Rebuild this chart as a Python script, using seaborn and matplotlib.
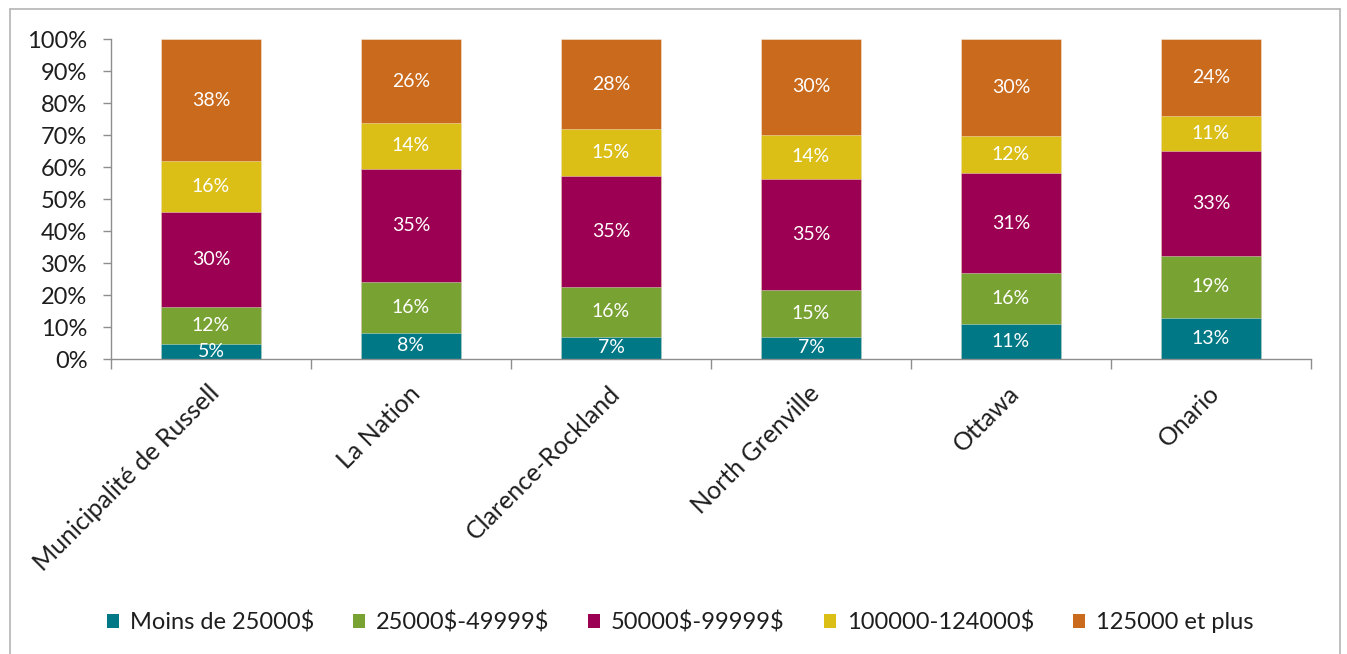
import numpy as np
import pandas as pd
import matplotlib
matplotlib.use("Agg")
import matplotlib.pyplot as plt
import matplotlib.transforms as mtransforms
from matplotlib.lines import Line2D
from matplotlib.patches import Patch
import seaborn as sns

# Household income distribution by municipality (percent of households)
categories = ["Municipalité de Russell", "La Nation", "Clarence-Rockland",
              "North Grenville", "Ottawa", "Onario"]
series_names = ["Moins de 25000$", "25000$-49999$", "50000$-99999$",
                "100000-124000$", "125000 et plus"]
moins_25000 = [4.6, 8.2, 7.0, 7.0, 11.1, 12.9]
de_25000_49999 = [11.7, 15.9, 15.6, 14.6, 15.7, 19.4]
de_50000_99999 = [29.7, 35.4, 34.6, 34.6, 31.3, 32.7]
de_100000_124000 = [15.9, 14.4, 14.8, 14.0, 11.7, 10.9]
plus_125000 = [38.1, 26.1, 28.0, 29.8, 30.2, 24.1]
series_colors = ["#007886", "#78A232", "#9C0053", "#DBBF17", "#C96A1D"]
ytick_values = [0, 10, 20, 30, 40, 50, 60, 70, 80, 90, 100]

sns.set_style("white")
plt.rcParams["font.family"] = ["Lato", "DejaVu Sans"]
plt.rcParams["text.parse_math"] = False  # dollar signs are literal text

series_values = [moins_25000, de_25000_49999, de_50000_99999,
                 de_100000_124000, plus_125000]
df = pd.DataFrame({name: vals for name, vals in zip(series_names, series_values)},
                  index=categories)
cum = df.cumsum(axis=1)
bottoms = cum - df

fig = plt.figure(figsize=(13.47, 6.54), dpi=100)
ax = fig.add_axes([111 / 1347, 1 - 359 / 654, 1200 / 1347, 319.7 / 654])

# stacked bars: draw cumulative totals from the top segment downwards
for i in reversed(range(len(series_names))):
    sns.barplot(x=categories, y=cum[series_names[i]].values, color=series_colors[i],
                saturation=1, width=0.5, ax=ax, order=categories,
                edgecolor=(1, 1, 1, 0.45), linewidth=0.6)

# segment value labels
for i, name in enumerate(series_names):
    for j, cat in enumerate(categories):
        v = df.loc[cat, name]
        mid = bottoms.loc[cat, name] + v / 2
        ax.text(j, mid, f"{v:.0f}%", ha="center", va="center",
                color="white", fontsize=14)

ax.set_xlim(-0.5, len(categories) - 0.5)
ax.set_ylim(0, 100)
ax.set_yticks(ytick_values)
ax.set_yticklabels([f"{t}%" for t in ytick_values])
ax.set_xlabel("")
ax.set_ylabel("")

axis_grey = "#8e8e8e"
for side in ["top", "right"]:
    ax.spines[side].set_visible(False)
for side in ["left", "bottom"]:
    ax.spines[side].set_color(axis_grey)
    ax.spines[side].set_linewidth(1.0)

ax.tick_params(axis="y", which="major", direction="out", length=6, width=1,
               color=axis_grey, labelsize=17, labelcolor="#1e1e1e", pad=11, left=True)
ax.set_xticks(np.arange(len(categories)))
ax.set_xticks(np.arange(len(categories) + 1) - 0.5, minor=True)
ax.tick_params(axis="x", which="major", length=0, pad=22, labelsize=18,
               labelcolor="#1e1e1e")
ax.tick_params(axis="x", which="minor", direction="out", length=7, width=1,
               color=axis_grey, bottom=True)
shift = mtransforms.ScaledTranslation(5 / 100, 0, fig.dpi_scale_trans)
for lab in ax.get_xticklabels():
    lab.set_rotation(45)
    lab.set_ha("right")
    lab.set_va("center")
    lab.set_rotation_mode("anchor")
    lab.set_transform(lab.get_transform() + shift)

handles = [Patch(facecolor=c, edgecolor="none", label=n)
           for n, c in zip(series_names, series_colors)]
fig.legend(handles=handles, loc="center", bbox_to_anchor=(680 / 1347, 1 - 622 / 654),
           ncol=5, frameon=False, fontsize=17, handlelength=0.52, handleheight=0.52,
           handletextpad=0.45, columnspacing=1.65, labelcolor="#1e1e1e")

# outer chart frame (open at the bottom)
frame_color = "#b4b4b4"
fig.add_artist(Line2D([10 / 1347, 10 / 1347], [0, 1 - 9 / 654],
                      transform=fig.transFigure, color=frame_color, lw=1.2))
fig.add_artist(Line2D([10 / 1347, 1340 / 1347], [1 - 9 / 654, 1 - 9 / 654],
                      transform=fig.transFigure, color=frame_color, lw=1.2))
fig.add_artist(Line2D([1340 / 1347, 1340 / 1347], [0, 1 - 9 / 654],
                      transform=fig.transFigure, color=frame_color, lw=1.2))

fig.savefig("out.png", dpi=100, facecolor="white")
